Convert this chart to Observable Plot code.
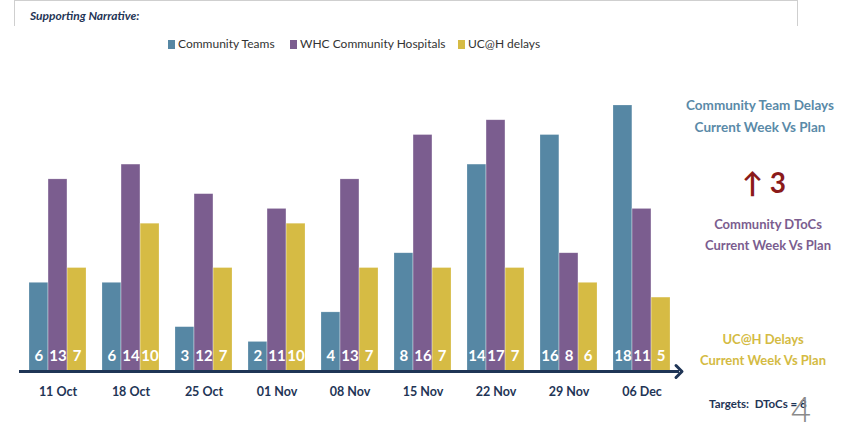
<!DOCTYPE html>
<html>
<head>
<meta charset="utf-8">
<script src="https://cdn.jsdelivr.net/npm/d3@7"></script>
<script src="https://cdn.jsdelivr.net/npm/@observablehq/plot@0.6"></script>
<style>
  html, body { margin: 0; padding: 0; background: #fff; }
  #wrap { position: relative; width: 843px; height: 430px; overflow: hidden;
    font-family: Lato, "Open Sans", sans-serif; }
  .abs { position: absolute; white-space: nowrap; }
  #box { left: 14px; top: 0; width: 782px; height: 25px; border: 1px solid #cfcfcf; border-bottom: none; }
  #narr { left: 30px; top: 8px; font-size: 12px; font-weight: bold; font-style: italic; color: #1f3556; }
  .leg { top: 36px; font-size: 12px; color: #333; }
  .leg span.sw { display: inline-block; width: 7px; height: 9px; margin-right: 3px; vertical-align: -1px; }
  #chart { left: 0; top: 60px; }
  .ann { text-align: center; font-weight: bold; font-size: 13.5px; line-height: 22px; width: 180px; }
</style>
</head>
<body>
<div id="wrap">
  <div id="box" class="abs"></div>
  <div id="narr" class="abs">Supporting Narrative:</div>
  <div id="chart" class="abs"></div>
  <div class="abs ann" style="left:670px;top:94px;color:#5a8aa8;">Community Team Delays<br>Current Week Vs Plan</div>
  <div class="abs ann" style="left:674px;top:165px;color:#8b1a1a;font-size:28px;line-height:34px;">↑ 3</div>
  <div class="abs ann" style="left:678px;top:214px;color:#7b5d8f;font-size:13px;line-height:21px;">Community DToCs<br>Current Week Vs Plan</div>
  <div class="abs ann" style="left:673px;top:329px;color:#d4bb43;font-size:13px;line-height:21px;">UC@H Delays<br>Current Week Vs Plan</div>
  <div class="abs" style="left:709px;top:397px;font-size:11.5px;font-weight:bold;color:#1f3556;">Targets:&nbsp; DToCs = 8</div>
  <div class="abs" style="left:791px;top:392px;font-size:34px;line-height:34px;color:#8a8a8a;font-family:'Open Sans',sans-serif;font-weight:300;">4</div>
</div>
<script>
const dates = ["11 Oct","18 Oct","25 Oct","01 Nov","08 Nov","15 Nov","22 Nov","29 Nov","06 Dec"];
const seriesNames = ["Community Teams","WHC Community Hospitals","UC@H delays"];
const communityTeams = [6,6,3,2,4,8,14,16,18];
const whcHospitals = [13,14,12,11,13,16,17,8,11];
const ucahDelays = [7,10,7,10,7,7,7,6,5];
const colors = ["#5687a4","#7b5d8f","#d6bb44"];

const seriesValues = [communityTeams, whcHospitals, ucahDelays];
const rows = seriesValues.map((vals, s) => dates.map((d, i) => ({date: d, series: seriesNames[s], value: vals[i]})));

// legend
const legendLefts = [168, 290, 458];
const wrap = document.getElementById("wrap");
seriesNames.forEach((n, i) => {
  const it = document.createElement("div");
  it.className = "abs leg";
  it.style.left = legendLefts[i] + "px";
  it.innerHTML = `<span class="sw" style="background:${colors[i]}"></span>${n}`;
  wrap.appendChild(it);
});

const W = 843, mL = 19, mR = 164;
const pI = 0.22, pO = 0.11;
const step = (W - mL - mR) / (dates.length - pI + 2 * pO);
const bw = step * (1 - pI);
const sub = bw / 3;

const barMarks = rows.map((data, s) => Plot.barY(data, {
  x: "date", y: "value", fill: colors[s],
  insetLeft: sub * s, insetRight: sub * (2 - s),
  stroke: "#ffffff", strokeOpacity: 0.35, strokeWidth: 0.6
}));
const labelMarks = rows.map((data, s) => Plot.text(data, {
  x: "date", y: () => 0, text: d => String(d.value),
  dx: (s - 1) * sub, dy: -15, fill: "#ffffff",
  fontWeight: "bold", fontSize: 15
}));

const chart = Plot.plot({
  width: W, height: 370,
  marginLeft: mL, marginRight: mR, marginTop: 45, marginBottom: 59,
  style: {fontFamily: 'Lato, "Open Sans", sans-serif', background: "transparent"},
  x: {domain: dates, paddingInner: pI, paddingOuter: pO, axis: null},
  y: {domain: [0, 18], axis: null},
  marks: [
    ...barMarks,
    ...labelMarks,
    Plot.ruleY([0], {stroke: "#1f3556", strokeWidth: 3, markerEnd: "arrow"}),
    Plot.text(dates, {x: d => d, y: () => 0, text: d => d, dy: 20, fill: "#1f3556", fontWeight: "bold", fontSize: 12.5})
  ]
});
document.getElementById("chart").appendChild(chart);
</script>
</body>
</html>
